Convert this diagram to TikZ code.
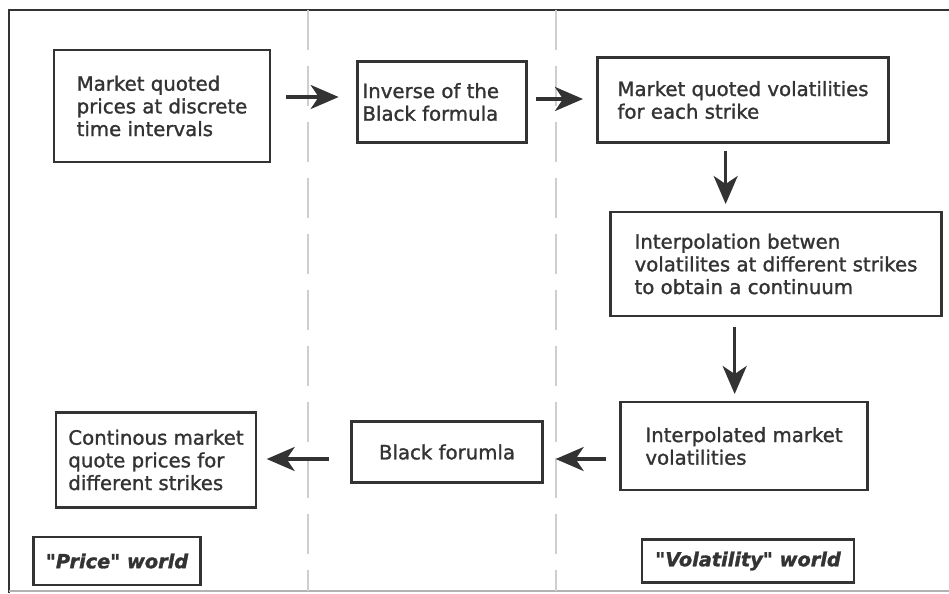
\documentclass[tikz,border=0pt]{standalone}
\usepackage{fontspec}
\setmainfont{DejaVu Sans}
\newfontfamily\boxfont[FakeBold=1.3]{DejaVu Sans}
\newfontfamily\worldfont[FakeBold=1.5]{DejaVu Sans Bold Oblique}
\usetikzlibrary{arrows.meta}
\definecolor{ink}{HTML}{333333}
\definecolor{divgray}{HTML}{CFCFCF}

\begin{document}
\begin{tikzpicture}[
    x=0.75pt, y=-0.75pt,
    box/.style={draw=ink, line width=2pt, align=left, inner sep=0pt,
      text=ink, font=\boxfont\fontsize{14.8}{17}\selectfont},
    world/.style={box, text=ink, font=\worldfont\fontsize{14.5}{16}\selectfont},
    arrow/.style={-{Stealth[length=21pt,width=18pt,inset=6pt]}, line width=2.4pt, draw=ink},
    divider/.style={divgray, line width=1pt, dash pattern=on 30pt off 12pt}
  ]
    \useasboundingbox (0,0) rectangle (949,593);

    % frame and the two dividers
    \draw[ink, line width=1.8pt] (949,10) -- (9,10) -- (9,593);
    \draw[gray!60, line width=1pt] (9,591) -- (949,591);
    \draw[divider] (308,10) -- (308,591);
    \draw[divider] (556,10) -- (556,591);

    \node[box, minimum width=162pt, minimum height=84pt] (quotes) at (162,106)
      {Market quoted\\prices at discrete\\time intervals};
    \node[box, minimum width=127pt, minimum height=61pt] (inverse) at (442,102)
      {Inverse of the\\Black formula\phantom{xx}};
    \node[box, minimum width=218pt, minimum height=64pt] (mktvol) at (743,100)
      {Market quoted volatilities\\for each strike};
    \node[box, minimum width=248pt, minimum height=78pt] (interp) at (776,264)
      {Interpolation betwen\\volatilites at different strikes\\to obtain a continuum};
    \node[box, minimum width=185pt, minimum height=66pt] (intvol) at (744,446)
      {Interpolated market\\volatilities};
    \node[box, minimum width=143pt, minimum height=46pt] (black) at (447,452)
      {Black forumla};
    \node[box, minimum width=150pt, minimum height=71pt] (contprices) at (156,460)
      {Continous market\\quote prices for\\different strikes};

    \node[world, minimum width=125pt, minimum height=36pt] (priceworld) at (117,561)
      {"Price" world};
    \node[world, minimum width=159pt, minimum height=32pt] (volworld) at (748,561)
      {"Volatility" world};

    \draw[arrow, shorten <=11pt, shorten >=13pt] (quotes.east |- 0,97) -- (inverse.west |- 0,97);
    \draw[arrow, shorten <=6pt, shorten >=10pt] (inverse.east |- 0,99) -- (mktvol.west |- 0,99);
    \draw[arrow, shorten <=5pt, shorten >=5pt] ([xshift=-13pt]mktvol.south) -- ([xshift=-13pt]mktvol.south |- interp.north);
    \draw[arrow, shorten <=7pt, shorten >=5pt] ([xshift=-7pt]intvol.north |- interp.south) -- ([xshift=-7pt]intvol.north);
    \draw[arrow, shorten <=10pt, shorten >=9pt] (intvol.west |- 0,459) -- (black.east |- 0,459);
    \draw[arrow, shorten <=16pt, shorten >=7pt] (black.west |- 0,459) -- (contprices.east |- 0,459);
  \end{tikzpicture}
\end{document}
